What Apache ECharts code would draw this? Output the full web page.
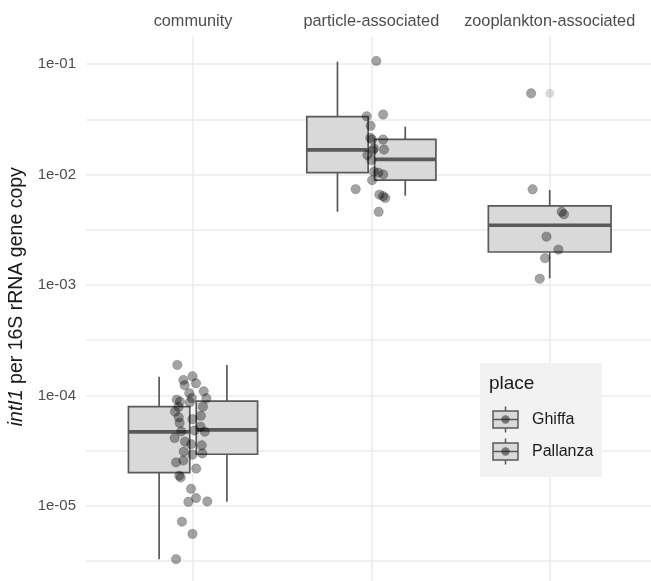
<!DOCTYPE html>
<html>
<head>
<meta charset="utf-8">
<script src="https://cdn.jsdelivr.net/npm/echarts@6/dist/echarts.min.js"></script>
<style>
  html, body { margin: 0; padding: 0; background: #ffffff; }
  #chart { width: 651px; height: 581px; }
</style>
</head>
<body>
<div id="chart"></div>
<script>
// ---- data -------------------------------------------------------------
const categories = ['community', 'particle-associated', 'zooplankton-associated'];
const places = ['Ghiffa', 'Pallanza'];
const tickValues = [1e-5, 1e-4, 1e-3, 1e-2, 1e-1];
const tickLabels = ['1e-05', '1e-04', '1e-03', '1e-02', '1e-01'];

// five-number summaries per category: [lower whisker, Q1, median, Q3, upper whisker]
const ghiffaStats = [
  [3.30e-6, 2.00e-5, 4.68e-5, 7.92e-5, 1.48e-4],
  [4.60e-3, 1.04e-2, 1.67e-2, 3.34e-2, 1.05e-1],
  null
];
const pallanzaStats = [
  [1.09e-5, 2.94e-5, 4.88e-5, 8.91e-5, 1.89e-4],
  [6.43e-3, 8.91e-3, 1.37e-2, 2.08e-2, 2.71e-2],
  [1.15e-3, 1.99e-3, 3.47e-3, 5.21e-3, 7.24e-3]
];
const pallanzaOutliers = [[], [], [5.43e-2]];

// individual samples and their horizontal jitter (category units)
const communityValues = [
  1.89e-4, 1.49e-4, 1.38e-4, 1.24e-4, 1.29e-4, 1.05e-4, 1.09e-4, 9.44e-5, 9.16e-5, 8.79e-5,
  9.48e-5, 8.65e-5, 7.92e-5, 7.87e-5, 7.13e-5, 6.55e-5, 6.35e-5, 6.11e-5, 5.64e-5, 5.22e-5,
  4.72e-5, 4.82e-5, 4.70e-5, 4.12e-5, 3.82e-5, 3.62e-5, 3.54e-5, 3.10e-5, 2.91e-5, 2.99e-5,
  2.58e-5, 2.48e-5, 2.18e-5, 1.88e-5, 1.81e-5, 1.43e-5, 1.09e-5, 1.18e-5, 1.10e-5, 7.21e-6,
  5.58e-6, 3.30e-6
];
const communityJitter = [
  -0.088, -0.003, -0.054, -0.047, 0.017, -0.021, 0.060, 0.075, -0.091, -0.073,
  -0.007, -0.018, 0.056, -0.081, -0.101, 0.044, -0.080, -0.003, -0.075, 0.042,
  -0.066, 0.008, 0.066, -0.103, -0.045, -0.010, 0.049, -0.052, -0.003, 0.052,
  -0.054, -0.095, 0.018, -0.077, -0.069, -0.011, -0.026, 0.017, 0.080, -0.062,
  -0.003, -0.095
];
const particleValues = [
  0.1065, 0.0336, 0.0349, 0.0276, 0.0215, 0.0207, 0.0207, 0.0172, 0.0165, 0.0168,
  0.0150, 0.0135, 0.0106, 0.0104, 0.0100, 0.00887, 0.00737, 0.00657, 0.00636, 0.00613,
  0.00460
];
const particleJitter = [
  0.028, -0.026, 0.066, -0.004, -0.006, 0.003, 0.066, 0.014, 0.008, 0.071,
  -0.022, 0.000, 0.015, 0.039, 0.067, 0.004, -0.088, 0.045, 0.066, 0.078,
  0.041
];
const zooValues = [0.0543, 0.00735, 0.00460, 0.00436, 0.00274, 0.00209, 0.00175, 0.00114];
const zooJitter = [-0.104, -0.096, 0.067, 0.080, -0.018, 0.049, -0.026, -0.056];

// ---- helpers ------------------------------------------------------------
const lg = Math.log10;
const DODGE = 0.19;       // horizontal offset of each place's box
const HALF_W = 0.172;     // half width of a dodged box
const FONT = 'Liberation Sans, Arial, Helvetica, sans-serif';
const BOX_STROKE = '#595959';

// build box items: [x, halfWidth, lo, q1, med, q3, hi] on log10 scale
const boxData = [];
categories.forEach((c, i) => {
  const g = ghiffaStats[i], p = pallanzaStats[i];
  const x = i + 1;
  if (g && p) {
    boxData.push([x - DODGE, HALF_W].concat(g.map(lg)));
    boxData.push([x + DODGE, HALF_W].concat(p.map(lg)));
  } else {
    const s = g || p;
    boxData.push([x, HALF_W * 2].concat(s.map(lg)));
  }
});

const outlierData = [];
pallanzaOutliers.forEach((arr, i) => arr.forEach(v => outlierData.push([i + 1, lg(v)])));

const pointData = [];
[[communityValues, communityJitter], [particleValues, particleJitter], [zooValues, zooJitter]]
  .forEach(([vals, jit], i) => vals.forEach((v, k) => pointData.push([i + 1 + jit[k], lg(v)])));

const majorTicks = tickValues.map(lg);
const allTicks = [];
for (let e = -5.5; e <= -1; e += 0.5) allTicks.push(e);

function renderBox(params, api) {
  const x = api.value(0), hw = api.value(1);
  const lo = api.value(2), q1 = api.value(3), md = api.value(4), q3 = api.value(5), hi = api.value(6);
  const tl = api.coord([x - hw, q3]);
  const br = api.coord([x + hw, q1]);
  const cx = api.coord([x, md])[0];
  const yHi = api.coord([x, hi])[1];
  const yLo = api.coord([x, lo])[1];
  const yMd = api.coord([x, md])[1];
  const stroke = { stroke: BOX_STROKE, lineWidth: 1.7 };
  return {
    type: 'group',
    children: [
      { type: 'line', shape: { x1: cx, y1: yHi, x2: cx, y2: tl[1] }, style: stroke },
      { type: 'line', shape: { x1: cx, y1: br[1], x2: cx, y2: yLo }, style: stroke },
      { type: 'rect', shape: { x: tl[0], y: tl[1], width: br[0] - tl[0], height: br[1] - tl[1] },
        style: { fill: '#d9d9d9', stroke: BOX_STROKE, lineWidth: 1.7 } },
      { type: 'line', shape: { x1: tl[0], y1: yMd, x2: br[0], y2: yMd },
        style: { stroke: BOX_STROKE, lineWidth: 3.6 } }
    ]
  };
}

// legend drawn as a small panel with boxplot keys
function legendGraphic() {
  const left = 480, top = 363, Z = 100;
  const children = [
    { type: 'rect', z: Z, shape: { x: 0, y: 0, width: 122, height: 114 }, style: { fill: '#f2f2f2' } },
    { type: 'text', z: Z + 1, x: 9, y: 21, style: { text: 'place', font: '19px ' + FONT, fill: '#1a1a1a', textVerticalAlign: 'middle' } }
  ];
  places.forEach((name, i) => {
    const cx = 25.5, cy = 56.5 + 32 * i;
    children.push(
      { type: 'line', z: Z + 1, shape: { x1: cx, y1: cy - 13, x2: cx, y2: cy + 13 }, style: { stroke: BOX_STROKE, lineWidth: 1.5 } },
      { type: 'rect', z: Z + 2, shape: { x: cx - 12.5, y: cy - 8.5, width: 25, height: 17 }, style: { fill: '#d9d9d9', stroke: BOX_STROKE, lineWidth: 1.5 } },
      { type: 'line', z: Z + 3, shape: { x1: cx - 12.5, y1: cy, x2: cx + 12.5, y2: cy }, style: { stroke: BOX_STROKE, lineWidth: 1.5 } },
      { type: 'circle', z: Z + 4, shape: { cx: cx, cy: cy, r: 4.2 }, style: { fill: 'rgba(0,0,0,0.45)' } },
      { type: 'text', z: Z + 1, x: 52, y: cy, style: { text: name, font: '16px ' + FONT, fill: '#1a1a1a', textVerticalAlign: 'middle' } }
    );
  });
  return { type: 'group', left: left, top: top, z: Z, children: children };
}

// ---- chart --------------------------------------------------------------
const chart = echarts.init(document.getElementById('chart'), null, { renderer: 'canvas' });
chart.setOption({
  backgroundColor: '#ffffff',
  animation: false,
  grid: { left: 86, right: 0, top: 36.4, bottom: 0, outerBoundsMode: 'none' },
  xAxis: {
    type: 'value',
    position: 'top',
    min: 0.4,
    max: 3.568,
    axisLine: { show: false },
    axisTick: { show: false, customValues: [1, 2, 3] },
    axisLabel: {
      customValues: [1, 2, 3],
      formatter: v => categories[Math.round(v) - 1],
      color: '#4d4d4d', fontSize: 16.3, fontFamily: FONT, margin: 7
    },
    splitLine: { show: true, lineStyle: { color: '#ebebeb', width: 1.5 } }
  },
  yAxis: {
    type: 'value',
    min: -5.679,
    max: -0.75,
    name: '{it|intI1} per 16S rRNA gene copy',
    nameLocation: 'middle',
    nameGap: 57,
    nameRotate: 90,
    nameTextStyle: {
      color: '#1a1a1a', fontSize: 19.5, fontFamily: FONT,
      padding: [0, 0, 0, 24],
      rich: { it: { fontStyle: 'italic', fontSize: 19.5, fontFamily: FONT, color: '#1a1a1a' } }
    },
    axisLine: { show: false },
    axisTick: { show: false, customValues: allTicks },
    axisLabel: {
      customValues: majorTicks,
      formatter: v => tickLabels[majorTicks.findIndex(t => Math.abs(t - v) < 1e-6)],
      color: '#4d4d4d', fontSize: 15, fontFamily: FONT, margin: 10
    },
    splitLine: { show: true, lineStyle: { color: '#ebebeb', width: 1.5 } }
  },
  series: [
    {
      type: 'custom',
      name: 'boxes',
      renderItem: renderBox,
      data: boxData,
      z: 2,
      silent: true
    },
    {
      type: 'scatter',
      name: 'outliers',
      data: outlierData,
      symbolSize: 9,
      itemStyle: { color: 'rgba(0,0,0,0.18)' },
      z: 3,
      silent: true
    },
    {
      type: 'scatter',
      name: 'samples',
      data: pointData,
      symbolSize: 9.5,
      itemStyle: { color: 'rgba(0,0,0,0.45)', borderColor: 'rgba(0,0,0,0.25)', borderWidth: 0.8 },
      z: 4,
      silent: true
    }
  ],
  graphic: [legendGraphic()]
});
</script>
</body>
</html>
